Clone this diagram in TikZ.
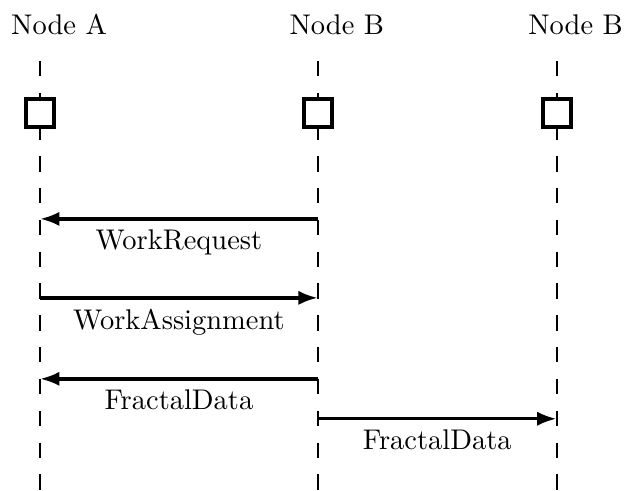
\documentclass[tikz,border=0pt]{standalone}
\usetikzlibrary{arrows.meta, positioning}

\tikzset{
    lifeline/.style={line width=0.7pt, dash pattern=on 5.4pt off 5.78pt},
    thread/.style={draw, line width=1.4pt, fill=white, minimum size=0.345cm, inner sep=0pt},
    message/.style={very thick, -{Latex[length=6.8pt, width=5pt]}},
}

\begin{document}
\begin{tikzpicture}

        \useasboundingbox (0,0) rectangle (7.73,6.06);

        % lifelines
        \coordinate (a_top) at (0.494,5.31);
        \coordinate (b_top) at (3.924,5.31);
        \coordinate (c_top) at (6.873,5.31);
        \coordinate (a_end) at (0.494,0);
        \coordinate (b_end) at (3.924,0);
        \coordinate (c_end) at (6.873,0);
        \draw[lifeline] (a_top) -- (a_end);
        \draw[lifeline] (b_top) -- (b_end);
        \draw[lifeline] (c_top) -- (c_end);

        % heads
        \node (node_a) [above = 0.2cm of a_top, xshift=0.235cm] {Node A};
        \node (node_b) [above = 0.2cm of b_top, xshift=0.235cm] {Node B};
        \node (node_c) [above = 0.2cm of c_top, xshift=0.235cm] {Node B};

        % threads
        \node[thread] (thread_a) at (0.494,4.66) {};
        \node[thread] (thread_b) at (3.924,4.66) {};
        \node[thread] (thread_c) at (6.873,4.66) {};

        % work request
        \coordinate (req_b) at (3.924,3.357);
        \coordinate (req_a) at (0.494,3.357);
        \draw[message] (req_b) -- node[below] {WorkRequest} (req_a);

        % work assignment
        \coordinate (assign_a) at (0.494,2.382);
        \coordinate (assign_b) at (3.924,2.382);
        \draw[message] (assign_a) -- node[below] {WorkAssignment} (assign_b);

        % fractal data
        \coordinate (data_b) at (3.924,1.382);
        \coordinate (data_a) at (0.494,1.382);
        \draw[message] (data_b) -- node[below] {FractalData} (data_a);

        \coordinate (fwd_b) at (3.924,0.889);
        \coordinate (fwd_c) at (6.873,0.889);
        \draw[message] (fwd_b) -- node[below] {FractalData} (fwd_c);

\end{tikzpicture}
\end{document}
